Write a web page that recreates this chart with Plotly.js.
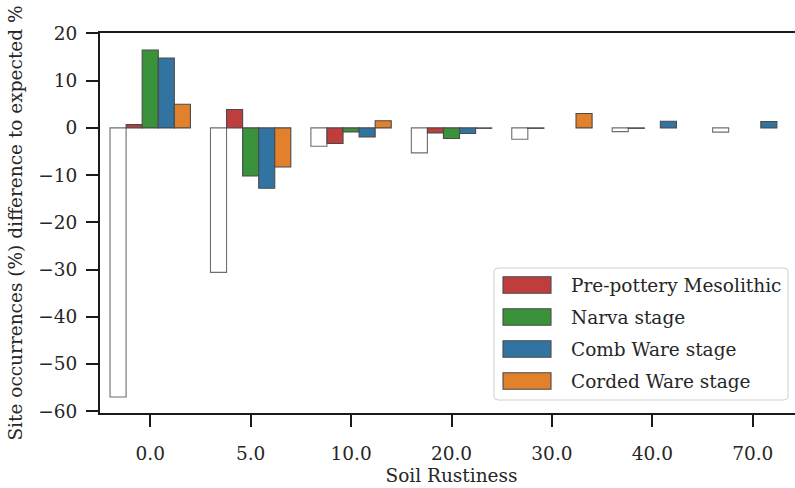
<!DOCTYPE html>
<html>
<head>
<meta charset="utf-8">
<script src="https://cdn.plot.ly/plotly-3.0.1.min.js"></script>
<style>
html, body { margin: 0; padding: 0; overflow: hidden; background: #ffffff; }
#chart { width: 810px; height: 488px; }
</style>
</head>
<body>
<div id="chart"></div>
<script>
// ---- data ----
var categories = ["0.0", "5.0", "10.0", "20.0", "30.0", "40.0", "70.0"];

var allPeriods      = [-57.0, -30.6, -3.9, -5.3, -2.4, -0.8, -0.9];
var prePottery      = [0.7, 3.9, -3.3, -1.05, -0.1, -0.1, null];
var narva           = [16.5, -10.2, -0.85, -2.25, null, null, null];
var combWare        = [14.8, -12.8, -1.9, -1.2, null, 1.4, 1.35];
var cordedWare      = [5.0, -8.3, 1.5, -0.1, 3.05, null, null];

var seriesNames  = ["All periods", "Pre-pottery Mesolithic", "Narva stage", "Comb Ware stage", "Corded Ware stage"];
var seriesValues = [allPeriods, prePottery, narva, combWare, cordedWare];
var seriesColors = ["#ffffff", "#c03d3e", "#3a923a", "#3274a1", "#e1812c"];
var yTicks = [-60, -50, -40, -30, -20, -10, 0, 10, 20];

// ---- layout geometry (pixels) ----
var W = 810, H = 488;
var L = 100, T = 33, R = 7, B = 75;
var plotW = W - L - R, plotH = H - T - B;
function px(x) { return (x - L) / plotW; }
function py(y) { return (H - B - y) / plotH; }

var FONT = "DejaVu Serif, serif";
var TXT = "#262626";

var traces = seriesNames.map(function (name, i) {
  return {
    type: "bar",
    name: name,
    x: categories,
    y: seriesValues[i],
    marker: {
      color: seriesColors[i],
      line: { color: i === 0 ? "#6e6e6e" : "#4a4a4a", width: 1.1 }
    },
    showlegend: false,
    hoverinfo: "x+y+name"
  };
});

// ---- custom legend (matplotlib style wide patches) ----
var shapes = [];
var annotations = [];
var lx0 = 494, lx1 = 788, ly0 = 268, ly1 = 400, rad = 4;
shapes.push({
  type: "path", xref: "paper", yref: "paper",
  path: "M" + px(lx0 + rad) + "," + py(ly0) +
        " L" + px(lx1 - rad) + "," + py(ly0) +
        " Q" + px(lx1) + "," + py(ly0) + " " + px(lx1) + "," + py(ly0 + rad) +
        " L" + px(lx1) + "," + py(ly1 - rad) +
        " Q" + px(lx1) + "," + py(ly1) + " " + px(lx1 - rad) + "," + py(ly1) +
        " L" + px(lx0 + rad) + "," + py(ly1) +
        " Q" + px(lx0) + "," + py(ly1) + " " + px(lx0) + "," + py(ly1 - rad) +
        " L" + px(lx0) + "," + py(ly0 + rad) +
        " Q" + px(lx0) + "," + py(ly0) + " " + px(lx0 + rad) + "," + py(ly0) + " Z",
  fillcolor: "rgba(255,255,255,0.85)",
  line: { color: "#d0d0d0", width: 1 }
});
for (var k = 1; k < seriesNames.length; k++) {
  var cy = 285 + (k - 1) * 32;
  shapes.push({
    type: "rect", xref: "paper", yref: "paper",
    x0: px(503), x1: px(551), y0: py(cy - 8.3), y1: py(cy + 8.3),
    fillcolor: seriesColors[k],
    line: { color: "#4a4a4a", width: 1.1 }
  });
  annotations.push({
    xref: "paper", yref: "paper",
    x: px(569), y: py(cy), xanchor: "left", yanchor: "middle",
    text: seriesNames[k], showarrow: false,
    font: { family: FONT, size: 18.5, color: TXT }
  });
}

var layout = {
  width: W, height: H,
  margin: { l: L, r: R, t: T, b: B, pad: 0 },
  paper_bgcolor: "#ffffff",
  plot_bgcolor: "#ffffff",
  font: { family: FONT, size: 18.5, color: TXT },
  barmode: "group",
  bargap: 0.2,
  bargroupgap: 0,
  showlegend: false,
  xaxis: {
    type: "category",
    range: [-0.5, 6.5],
    showgrid: false, zeroline: false,
    showline: true, linecolor: "#1a1a1a", linewidth: 2, mirror: true,
    ticks: "outside", ticklen: 12, tickwidth: 2, tickcolor: "#1a1a1a",
    ticklabelstandoff: 11,
    tickfont: { family: FONT, size: 18.5, color: TXT },
    title: { text: "Soil Rustiness", font: { family: FONT, size: 18.5, color: TXT }, standoff: 6 },
    automargin: false,
    fixedrange: true
  },
  yaxis: {
    range: [-60.4, 20.1],
    tickvals: yTicks,
    showgrid: false, zeroline: false,
    showline: true, linecolor: "#1a1a1a", linewidth: 2, mirror: true,
    ticks: "outside", ticklen: 12, tickwidth: 2, tickcolor: "#1a1a1a",
    ticklabelstandoff: 5,
    tickfont: { family: FONT, size: 18.5, color: TXT },
    title: { text: "Site occurrences (%) difference to expected %", font: { family: FONT, size: 18.5, color: TXT }, standoff: 11 },
    automargin: false,
    fixedrange: true
  },
  shapes: shapes,
  annotations: annotations
};

Plotly.newPlot("chart", traces, layout, { displayModeBar: false, staticPlot: true });
</script>
</body>
</html>
